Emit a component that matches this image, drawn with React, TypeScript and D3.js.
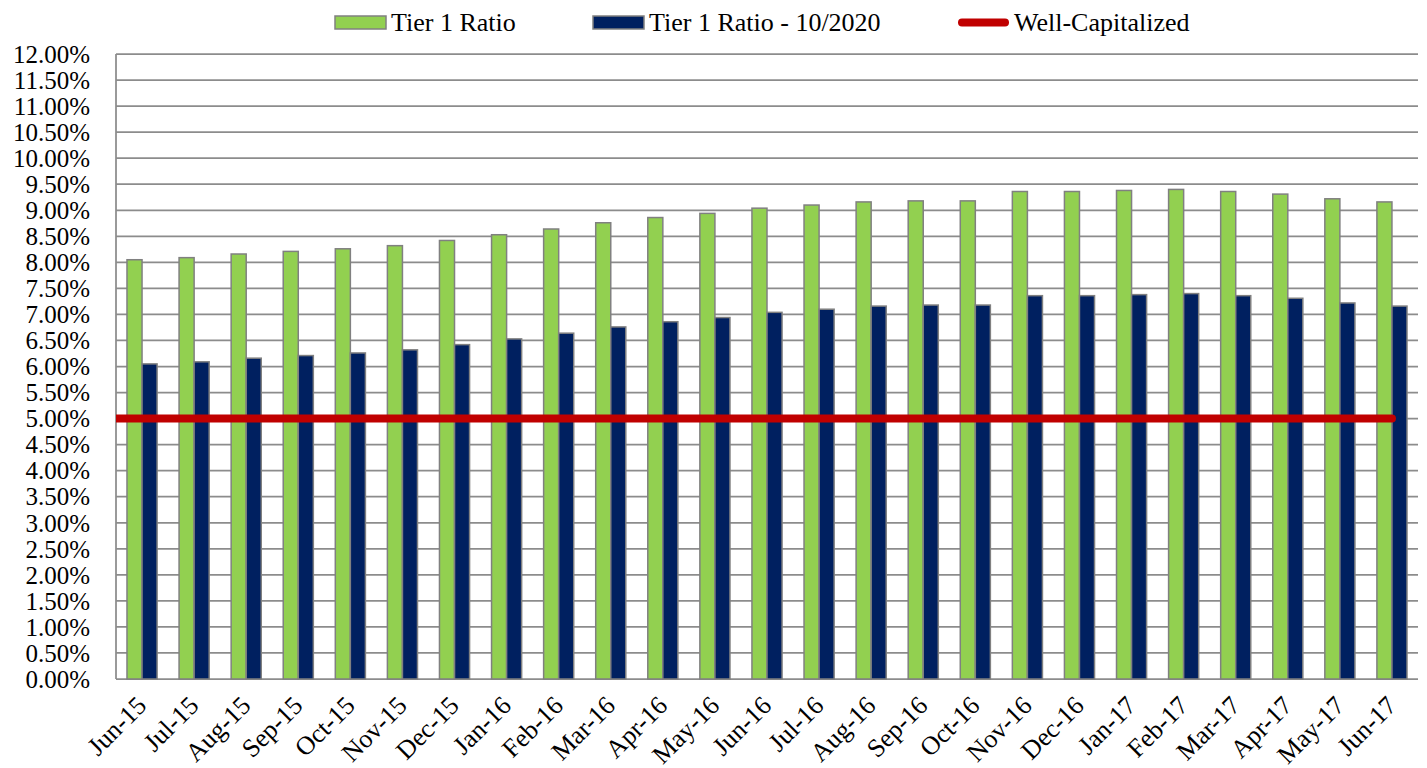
import React, { useEffect, useRef } from "react";
import * as d3 from "d3";

const months = [
  "Jun-15", "Jul-15", "Aug-15", "Sep-15", "Oct-15", "Nov-15", "Dec-15",
  "Jan-16", "Feb-16", "Mar-16", "Apr-16", "May-16", "Jun-16", "Jul-16",
  "Aug-16", "Sep-16", "Oct-16", "Nov-16", "Dec-16", "Jan-17", "Feb-17",
  "Mar-17", "Apr-17", "May-17", "Jun-17",
];

const tier1 = [
  8.05, 8.09, 8.16, 8.21, 8.26, 8.32, 8.42, 8.53, 8.64, 8.76, 8.86, 8.94,
  9.04, 9.10, 9.16, 9.18, 9.18, 9.36, 9.36, 9.38, 9.40, 9.36, 9.31, 9.22, 9.16,
];

const tier1Oct2020 = [
  6.05, 6.09, 6.16, 6.21, 6.26, 6.32, 6.42, 6.53, 6.64, 6.76, 6.86, 6.94,
  7.04, 7.10, 7.16, 7.18, 7.18, 7.36, 7.36, 7.38, 7.40, 7.36, 7.31, 7.22, 7.16,
];

const wellCapitalized = [
  5, 5, 5, 5, 5, 5, 5, 5, 5, 5, 5, 5, 5, 5, 5, 5, 5, 5, 5, 5, 5, 5, 5, 5, 5,
];

const yTicks = [0, 0.5, 1, 1.5, 2, 2.5, 3, 3.5, 4, 4.5, 5, 5.5, 6, 6.5, 7, 7.5, 8, 8.5, 9, 9.5, 10, 10.5, 11, 11.5, 12];

const seriesNames = ["Tier 1 Ratio", "Tier 1 Ratio - 10/2020"];
const seriesColors = ["#92D050", "#002060"];
const lineColor = "#C00000";

const FONT = "'Liberation Serif', 'Times New Roman', serif";

const App: React.FC = () => {
  const svgRef = useRef<SVGSVGElement | null>(null);
  const width = 1427;
  const height = 768;

  useEffect(() => {
    document.body.style.margin = "0";
    if (!svgRef.current) return;
    const svg = d3.select(svgRef.current);
    svg.selectAll("*").remove();

    const m = { left: 116, right: 1418, top: 54, bottom: 679 };

    const x0 = d3.scaleBand().domain(months).range([m.left, m.right]).padding(0);
    const x1 = d3
      .scaleBand()
      .domain(seriesNames)
      .range([0, x0.bandwidth()])
      .paddingInner(0)
      .paddingOuter(0.73);
    const y = d3.scaleLinear().domain([0, 12]).range([m.bottom, m.top]);

    // gridlines
    svg
      .append("g")
      .selectAll("line")
      .data(yTicks)
      .enter()
      .append("line")
      .attr("x1", m.left)
      .attr("x2", m.right)
      .attr("y1", (d) => y(d))
      .attr("y2", (d) => y(d))
      .attr("stroke", "#8c8c8c")
      .attr("stroke-width", 1.75);

    // left axis line
    svg
      .append("line")
      .attr("x1", m.left)
      .attr("x2", m.left)
      .attr("y1", m.top)
      .attr("y2", m.bottom)
      .attr("stroke", "#8c8c8c")
      .attr("stroke-width", 1.75);

    // y labels
    svg
      .append("g")
      .selectAll("text")
      .data(yTicks)
      .enter()
      .append("text")
      .attr("x", 90)
      .attr("y", (d) => y(d))
      .attr("dy", "0.35em")
      .attr("text-anchor", "end")
      .attr("font-family", FONT)
      .attr("font-size", 25)
      .attr("fill", "#000")
      .text((d) => d.toFixed(2) + "%");

    // bars
    const allSeries = [tier1, tier1Oct2020];
    allSeries.forEach((vals, si) => {
      svg
        .append("g")
        .selectAll("rect")
        .data(vals)
        .enter()
        .append("rect")
        .attr("x", (_, i) => x0(months[i])! + x1(seriesNames[si])!)
        .attr("y", (d) => y(d))
        .attr("width", x1.bandwidth())
        .attr("height", (d) => y(0) - y(d))
        .attr("fill", seriesColors[si])
        .attr("stroke", "#808080")
        .attr("stroke-width", 1.5);
    });

    // well-capitalized line
    svg
      .append("defs")
      .append("clipPath")
      .attr("id", "plotClip")
      .append("rect")
      .attr("x", m.left)
      .attr("y", 0)
      .attr("width", width - m.left)
      .attr("height", height);

    const pts: [number, number][] = wellCapitalized.map((v, i) => [
      x0(months[i])! + x0.bandwidth() / 2,
      y(v),
    ]);
    pts.unshift([m.left, y(wellCapitalized[0])]);
    svg
      .append("path")
      .attr("d", d3.line()(pts))
      .attr("fill", "none")
      .attr("stroke", lineColor)
      .attr("stroke-width", 8)
      .attr("stroke-linecap", "round")
      .attr("clip-path", "url(#plotClip)");

    // x labels
    svg
      .append("g")
      .selectAll("text")
      .data(months)
      .enter()
      .append("text")
      .attr(
        "transform",
        (d) => `translate(${x0(d)! + x0.bandwidth() / 2 + 6},${m.bottom + 28}) rotate(-45)`
      )
      .attr("text-anchor", "end")
      .attr("font-family", FONT)
      .attr("font-size", 26)
      .attr("fill", "#000")
      .text((d) => d);

    // legend
    const legend = svg.append("g").attr("font-family", FONT).attr("font-size", 26);
    const items = [
      { label: seriesNames[0], x: 335, type: "rect", color: seriesColors[0] },
      { label: seriesNames[1], x: 593, type: "rect", color: seriesColors[1] },
      { label: "Well-Capitalized", x: 958, type: "line", color: lineColor },
    ];
    items.forEach((it) => {
      if (it.type === "rect") {
        legend
          .append("rect")
          .attr("x", it.x)
          .attr("y", 16)
          .attr("width", 51)
          .attr("height", 13)
          .attr("fill", it.color)
          .attr("stroke", "#808080")
          .attr("stroke-width", 1.5);
      } else {
        legend
          .append("line")
          .attr("x1", it.x + 4)
          .attr("x2", it.x + 47)
          .attr("y1", 22.5)
          .attr("y2", 22.5)
          .attr("stroke", it.color)
          .attr("stroke-width", 8)
          .attr("stroke-linecap", "round");
      }
      legend
        .append("text")
        .attr("x", it.x + 56)
        .attr("y", 31)
        .attr("fill", "#000")
        .text(it.label);
    });
  }, []);

  return <svg ref={svgRef} width={width} height={height} style={{ display: "block" }} />;
};

export default App;
